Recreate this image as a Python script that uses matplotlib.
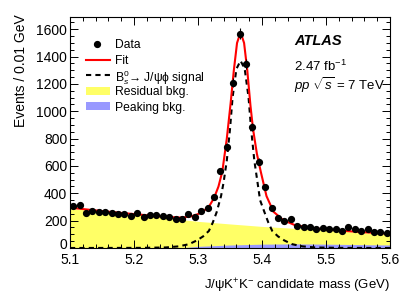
import matplotlib
matplotlib.use("Agg")
import matplotlib.pyplot as plt
import matplotlib.transforms as mtransforms
import numpy as np
from matplotlib.lines import Line2D
from matplotlib.patches import Rectangle

plt.rcParams['font.family'] = ['Liberation Sans', 'DejaVu Sans']
plt.rcParams['mathtext.fontset'] = 'custom'
plt.rcParams['mathtext.rm'] = 'Liberation Sans'
plt.rcParams['mathtext.it'] = 'Liberation Sans:italic'
plt.rcParams['mathtext.bf'] = 'Liberation Sans:bold'

# data: bin centres and counts (0.01 GeV bins)
mass = np.round(np.arange(5.105, 5.6, 0.01), 3)
counts = np.array([
    305, 312, 257, 274, 261, 260, 256, 252, 248, 232,
    255, 226, 241, 243, 232, 227, 211, 211, 252, 228,
    268, 289, 376, 565, 740, 1210, 1568, 1349, 885, 630,
    443, 295, 221, 200, 210, 161, 156, 156, 137, 146,
    140, 138, 121, 151, 141, 124, 138, 117, 115, 110,
])

# total fit curve
fit_x = [5.100, 5.150, 5.200, 5.250, 5.275, 5.290, 5.300, 5.310, 5.318, 5.325,
         5.332, 5.338, 5.345, 5.351, 5.356, 5.361, 5.3665, 5.372, 5.377, 5.382,
         5.386, 5.392, 5.398, 5.407, 5.418, 5.433, 5.450, 5.475, 5.500, 5.550,
         5.600]
fit_y = [295, 270, 248, 227, 222, 232, 248, 275, 310, 365,
         450, 560, 800, 1060, 1300, 1500, 1578, 1500, 1300, 1040,
         870, 690, 560, 380, 265, 205, 170, 148, 135, 118,
         104]

# Bs -> J/psi phi signal component
sig_x = [5.100, 5.210, 5.250, 5.270, 5.286, 5.298, 5.308, 5.317, 5.323, 5.329,
         5.336, 5.340, 5.345, 5.350, 5.354, 5.360, 5.3665, 5.373, 5.379, 5.383,
         5.388, 5.393, 5.397, 5.404, 5.410, 5.416, 5.425, 5.435, 5.447, 5.463,
         5.483, 5.523, 5.600]
sig_y = [0, 1, 4, 12, 28, 55, 85, 125, 185, 260,
         380, 480, 640, 870, 1100, 1310, 1370, 1310, 1100, 870,
         640, 480, 350, 260, 185, 125, 85, 55, 28, 12,
         4, 1, 0]

# backgrounds (yellow drawn to the total, blue peaking part on top of it)
bkg_x = [5.10, 5.15, 5.20, 5.25, 5.28, 5.30, 5.35, 5.40, 5.45, 5.50, 5.55, 5.60]
bkg_total = [290, 267, 245, 220, 205, 195, 176, 158, 144, 130, 115, 100]
bkg_peaking = [0, 0, 0, 0, 4, 12, 22, 28, 30, 28, 25, 22]

legend_labels = ['Data', 'Fit', 'B$_s^0$→ J/ψϕ signal', 'Residual bkg.', 'Peaking bkg.']

yellow = '#ffff66'
blue = '#9999ff'
dash = (0, (2.5, 2))

fig = plt.figure(figsize=(4.15, 2.98), dpi=100)
ax = fig.add_axes([70/415, 50/298, 320/415, 231/298])

ax.fill_between(bkg_x, 0, bkg_total, color=yellow, lw=0)
ax.fill_between(bkg_x, 0, bkg_peaking, color=blue, lw=0)
ax.plot(sig_x, sig_y, color='black', lw=1.5, ls=dash)
ax.plot(fit_x, fit_y, color='red', lw=1.5)
ax.errorbar(mass, counts, yerr=np.sqrt(counts), fmt='o', color='black',
            ms=4.2, elinewidth=0.8, capsize=0)

ax.set_xlim(5.1, 5.6)
ax.set_ylim(0, 1690)
ax.set_xticks(np.arange(5.1, 5.61, 0.1))
ax.set_xticks(np.arange(5.1, 5.6, 0.02), minor=True)
ax.set_yticks(np.arange(0, 1601, 200))
ax.set_yticks(np.arange(0, 1690, 50), minor=True)
ax.xaxis.set_major_formatter(plt.FormatStrFormatter('%.1f'))
ax.tick_params(which='both', direction='in', top=True, right=True,
               labelsize=10, width=0.7)
ax.tick_params(which='major', length=6)
ax.tick_params(which='minor', length=3)
ax.tick_params(axis='x', pad=3.5)
ax.tick_params(axis='y', pad=2)
for s in ax.spines.values():
    s.set_linewidth(0.8)

# lift the "0" a little so it sits clear of "5.1", as in the original
zero_lab = ax.yaxis.get_major_ticks()[0].label1
zero_lab.set_transform(zero_lab.get_transform() +
                       mtransforms.ScaledTranslation(0, 3/72, fig.dpi_scale_trans))

ax.set_xlabel('J/ψK$^{+}$K$^{-}$ candidate mass (GeV)', loc='right', fontsize=9.5)
ax.xaxis.set_label_coords(1.0, -0.125)
ax.set_ylabel('Events / 0.01 GeV', loc='top', fontsize=10)
ax.yaxis.set_label_coords(-0.131, 1.01)

# legend, placed by hand like the ROOT one
def ax_xy(px, py):
    return (px - 70) / 320, (248 - py) / 231

rows = [44, 60, 75, 91, 106]
tr = ax.transAxes
x0, _ = ax_xy(86, 0)
x1, _ = ax_xy(110, 0)
xm, _ = ax_xy(97, 0)
xt, _ = ax_xy(115, 0)
for i, (py, lab) in enumerate(zip(rows, legend_labels)):
    _, yy = ax_xy(0, py)
    if i == 0:
        ax.add_line(Line2D([xm], [yy], marker='o', ms=4.2, color='black',
                           transform=tr, clip_on=False))
    elif i == 1:
        ax.add_line(Line2D([x0, x1], [yy, yy], color='red', lw=1.5,
                           transform=tr, clip_on=False))
    elif i == 2:
        ax.add_line(Line2D([x0, x1], [yy, yy], color='black', lw=1.5, ls=dash,
                           transform=tr, clip_on=False))
    else:
        h = 8 / 231
        ax.add_patch(Rectangle((x0, yy - h / 2), x1 - x0, h,
                               color=yellow if i == 3 else blue, lw=0,
                               transform=tr, clip_on=False))
    ax.text(xt, yy, lab, transform=tr, fontsize=8.7, va='center_baseline')

ax.text(0.70, 0.896, 'ATLAS', transform=tr, fontsize=10.5,
        fontweight='bold', fontstyle='italic', va='center')
ax.text(0.70, 0.788, '2.47 fb$^{-1}$', transform=tr, fontsize=9.5,
        va='center')
ax.text(0.70, 0.706, r'$pp$ $\sqrt{s}$ = 7 TeV', transform=tr,
        fontsize=9.5, va='center')

fig.savefig('out.png', dpi=100)
